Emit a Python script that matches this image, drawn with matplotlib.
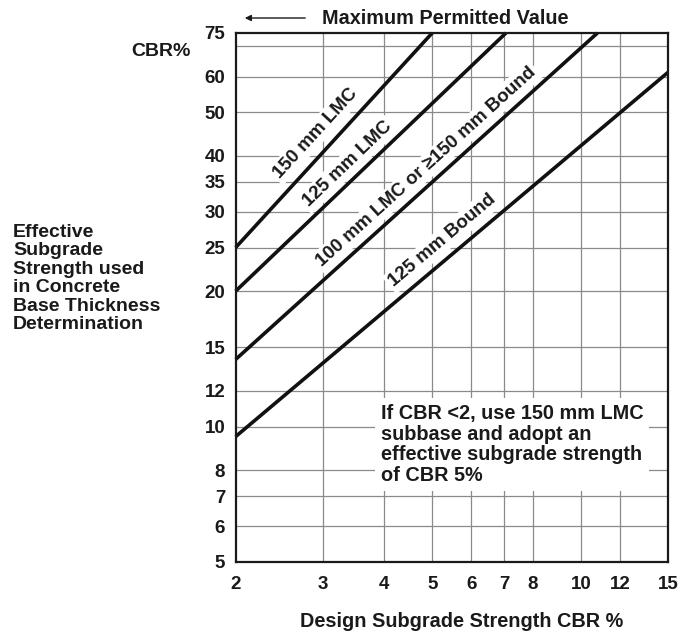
import numpy as np
import matplotlib.pyplot as plt
from matplotlib.ticker import FixedLocator, FixedFormatter, NullLocator

plt.rcParams['font.family'] = ['Liberation Sans', 'DejaVu Sans']
plt.rcParams['font.weight'] = 'bold'

# design CBR (x) and effective CBR (y) at the two ends of each line
lmc150_x = [2, 5.0]
lmc150_y = [25, 75]
lmc125_x = [2, 7.05]
lmc125_y = [20, 75]
lmc100_x = [2, 10.8]
lmc100_y = [14.1, 75]
bound125_x = [2, 15]
bound125_y = [9.5, 61.3]

x_ticks = [2, 3, 4, 5, 6, 7, 8, 10, 12, 15]
y_ticks = [5, 6, 7, 8, 10, 12, 15, 20, 25, 30, 35, 40, 50, 60, 75]
y_grid = [6, 7, 8, 10, 12, 15, 20, 25, 30, 35, 40, 50, 60, 70]

fig = plt.figure(figsize=(6.82, 6.33), dpi=100)
ax = fig.add_axes([0.3455, 0.1122, 0.634, 0.8358])
ax.set_xscale('log')
ax.set_yscale('log')
ax.set_xlim(2, 15)
ax.set_ylim(5, 75)

for v in x_ticks[1:-1]:
    ax.axvline(v, color='#8a8a8a', lw=0.9, zorder=1)
for v in y_grid:
    ax.axhline(v, color='#8a8a8a', lw=0.9, zorder=1)

ax.xaxis.set_major_locator(FixedLocator(x_ticks))
ax.xaxis.set_major_formatter(FixedFormatter([str(v) for v in x_ticks]))
ax.xaxis.set_minor_locator(NullLocator())
ax.yaxis.set_major_locator(FixedLocator(y_ticks))
ax.yaxis.set_major_formatter(FixedFormatter([str(v) for v in y_ticks]))
ax.yaxis.set_minor_locator(NullLocator())
ax.tick_params(length=0, labelsize=13.5, colors='#1a1a1a')
ax.tick_params(axis='x', pad=10)
ax.tick_params(axis='y', pad=7.5)
for s in ax.spines.values():
    s.set_linewidth(1.6)
    s.set_color('#1a1a1a')
    s.set_zorder(5)

lines = [
    (lmc150_x, lmc150_y, '150 mm LMC', 3.09, 13),
    (lmc125_x, lmc125_y, '125 mm LMC', 3.53, 10.5),
    (lmc100_x, lmc100_y, '100 mm LMC or \u2265150 mm Bound', 5.1, 11),
    (bound125_x, bound125_y, '125 mm Bound', 5.51, 12),
]

for xs, ys, label, xl, off in lines:
    ax.plot(xs, ys, color='#111111', lw=2.6, solid_capstyle='butt', zorder=4, clip_on=False)
    # point on line at xl, angle in screen space
    k = np.log(ys[1] / ys[0]) / np.log(xs[1] / xs[0])
    yl = ys[0] * (xl / xs[0]) ** k
    p0 = ax.transData.transform((xs[0], ys[0]))
    p1 = ax.transData.transform((xs[1], ys[1]))
    ang = np.degrees(np.arctan2(p1[1] - p0[1], p1[0] - p0[0]))
    nx = -np.sin(np.radians(ang)) * off
    ny = np.cos(np.radians(ang)) * off
    ax.annotate(label, (xl, yl), xytext=(nx, ny), textcoords='offset points',
                rotation=ang, rotation_mode='anchor', ha='center', va='center',
                fontsize=13.5, color='#1a1a1a', zorder=3,
                bbox=dict(boxstyle='square,pad=0.15', fc='white', ec='none'))

ax.text(0.336, 0.298, 'If CBR <2, use 150 mm LMC\nsubbase and adopt an\neffective subgrade strength\nof CBR 5%',
        transform=ax.transAxes, ha='left', va='top', fontsize=14.3, linespacing=1.1,
        color='#1a1a1a', zorder=3,
        bbox=dict(boxstyle='square,pad=0.3', fc='white', ec='none'))

fig.text(321.7 / 682, 1 - 18 / 633, 'Maximum Permitted Value', ha='left', va='center',
         fontsize=14.3, color='#1a1a1a')
ax.annotate('', xy=(242 / 682, 1 - 18 / 633), xytext=(308 / 682, 1 - 18 / 633),
            xycoords='figure fraction', textcoords='figure fraction',
            arrowprops=dict(arrowstyle='-|>', color='#1a1a1a', lw=1.0, mutation_scale=9))

fig.text(131.7 / 682, 1 - 52 / 633, 'CBR%', ha='left', va='center', fontsize=14, color='#1a1a1a')
fig.text(13 / 682, 1 - 278.5 / 633,
         'Effective\nSubgrade\nStrength used\nin Concrete\nBase Thickness\nDetermination',
         ha='left', va='center', fontsize=14, linespacing=1.12, color='#1a1a1a')
fig.text(461.5 / 682, 1 - 621.7 / 633, 'Design Subgrade Strength CBR %', ha='center', va='center',
         fontsize=14.3, color='#1a1a1a')

fig.savefig('out.png', dpi=100)
